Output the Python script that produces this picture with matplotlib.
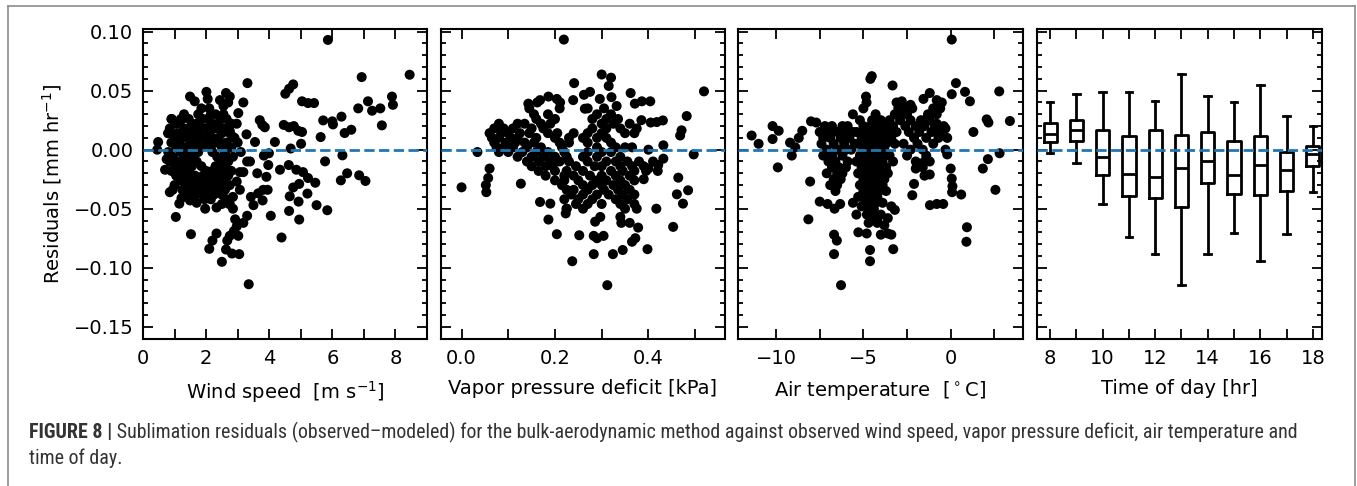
import matplotlib
matplotlib.use("Agg")
import matplotlib.pyplot as plt
from matplotlib.ticker import MultipleLocator
from matplotlib.lines import Line2D
from matplotlib import font_manager
import numpy as np

# ---------------- data ----------------
# Panel 1: wind speed [m/s] vs residual [mm/hr]
wind_outer = [(5.86, 0.093), (3.31, 0.0564), (6.93, 0.0615), (8.45, 0.0635), (4.76, 0.0553), (4.63, 0.0516),
              (4.51, 0.0474), (5.04, 0.041), (5.23, 0.0395), (5.42, 0.0395), (7.13, 0.041), (6.82, 0.035),
              (7.26, 0.033), (7.52, 0.035), (7.89, 0.045), (7.92, 0.038), (7.57, 0.0206), (5.71, 0.0248),
              (6.02, 0.0214), (6.0, 0.024), (6.29, 0.028), (6.39, 0.0141), (6.6, 0.0169), (5.63, 0.0107),
              (6.32, -0.0048), (5.77, -0.0099), (6.27, -0.026), (6.47, -0.020), (6.85, -0.0217), (7.05, -0.0265),
              (5.84, -0.0513), (4.39, -0.0744), (4.95, -0.0592), (4.63, -0.0519), (4.93, -0.044), (4.65, -0.0395),
              (5.21, -0.0372), (5.5, -0.047), (5.46, -0.028), (5.23, -0.024), (5.07, -0.019), (4.86, -0.017),
              (4.62, -0.013), (4.34, -0.017), (4.95, -0.029), (4.76, -0.032), (4.46, 0.021), (4.63, 0.019),
              (4.78, 0.020), (4.92, 0.016), (5.04, 0.015), (4.68, 0.001), (5.01, 0.005), (4.18, 0.0065),
              (3.55, 0.0065), (3.28, 0.013), (3.7, 0.025), (3.86, 0.019), (3.78, 0.021), (3.99, -0.003),
              (3.83, -0.005), (3.97, -0.013), (3.91, -0.023), (3.95, -0.034), (4.05, -0.056), (3.79, -0.043),
              (3.81, -0.034), (3.5, -0.047), (3.42, -0.04), (3.65, -0.037), (3.62, -0.02), (3.39, -0.01),
              (3.07, -0.019), (3.18, -0.019), (2.97, -0.027), (3.07, -0.034), (2.85, -0.04), (2.73, -0.046),
              (2.85, -0.05), (3.3, -0.056), (3.18, -0.062), (2.97, -0.065), (2.88, -0.069), (2.75, -0.073),
              (2.67, -0.077), (3.02, -0.073), (2.92, -0.059), (2.33, -0.071), (2.2, -0.077), (2.1, -0.084),
              (2.63, -0.0846), (2.82, -0.088), (3.05, -0.0885), (2.5, -0.095), (3.35, -0.114), (1.52, -0.0716),
              (1.04, -0.057), (1.15, -0.0457), (1.22, -0.041), (1.49, -0.043), (1.7, -0.045), (1.97, -0.05),
              (2.33, -0.049), (0.85, -0.036), (0.94, -0.034), (0.7, -0.017), (0.48, 0.0065), (0.45, 0.0),
              (0.75, -0.008), (0.8, 0.014), (0.91, 0.026), (1.2, 0.025), (1.49, 0.045), (1.64, 0.041),
              (2.01, 0.049), (2.05, 0.043), (2.44, 0.042), (2.55, 0.037), (2.63, 0.048), (2.75, 0.045),
              (2.7, 0.040), (3.18, 0.040), (3.02, 0.031), (2.97, 0.022), (2.75, 0.016), (2.84, 0.011)]
wind_cluster = {
    0.035: [1.85, 2.1],
    0.030: [1.3, 1.75, 2.15, 2.3, 2.55],
    0.026: [0.9, 1.2, 1.45, 1.9, 2.05, 2.45, 2.65],
    0.022: [1.05, 1.55, 1.7, 2.2, 2.4, 2.8],
    0.018: [0.85, 1.3, 1.6, 1.85, 2.0, 2.3, 2.6],
    0.014: [0.8, 1.1, 1.4, 1.75, 2.1, 2.5, 2.75],
    0.010: [1.0, 1.25, 1.55, 1.9, 2.2, 2.4, 2.9],
    0.006: [0.9, 1.15, 1.5, 1.7, 2.05, 2.35, 2.65, 3.0],
    0.002: [1.05, 1.3, 1.6, 1.85, 2.15, 2.5, 2.8],
    -0.002: [0.8, 1.2, 1.45, 1.75, 2.2, 2.6, 3.1],
    -0.006: [0.95, 1.3, 1.6, 2.35, 2.55, 2.85],
    -0.010: [0.85, 1.1, 1.4, 1.7, 2.45, 2.7, 3.3],
    -0.014: [1.0, 1.25, 1.55, 1.85, 2.3, 2.6],
    -0.018: [0.9, 1.15, 1.45, 2.0, 2.2, 2.5, 2.8],
    -0.022: [1.05, 1.35, 1.65, 1.9, 2.1, 2.4, 2.7],
    -0.026: [1.2, 1.5, 1.8, 2.05, 2.3, 2.55],
    -0.030: [1.0, 1.35, 1.6, 1.95, 2.2, 2.45, 2.75],
    -0.034: [1.25, 1.5, 1.8, 2.1, 2.35, 2.6],
    -0.038: [1.4, 1.7, 2.0, 2.25, 2.5],
    -0.042: [1.95, 2.15, 2.65],
    -0.046: [2.5, 2.75],
}

# Panel 2: vapor pressure deficit [kPa] vs residual
vpd_outer = [(0.219, 0.0933), (0.241, 0.0564), (0.30, 0.0637), (0.32, 0.061), (0.315, 0.054), (0.519, 0.0494),
             (0.362, 0.048), (0.262, 0.0465), (0.275, 0.049), (0.239, 0.042), (0.296, 0.043), (0.321, 0.0445),
             (0.332, 0.037), (0.386, 0.041), (0.404, 0.041), (0.371, 0.039), (0.186, 0.045), (0.204, 0.043),
             (0.211, 0.040), (0.143, 0.039), (0.162, 0.040), (0.168, 0.042), (0.264, 0.0347), (0.482, 0.0285),
             (0.418, 0.0234), (0.431, 0.0248), (0.471, 0.0164), (0.468, 0.012), (0.497, -0.004), (0.40, 0.0),
             (0.432, 0.0037), (0.432, -0.0076), (0.421, -0.013), (0.464, -0.0237), (0.461, -0.0378),
             (0.485, -0.0344), (0.474, -0.0457), (0.417, -0.050), (0.453, -0.0654), (0.398, -0.0843),
             (0.345, -0.085), (0.324, -0.0885), (0.283, -0.0885), (0.237, -0.0945), (0.312, -0.1148),
             (0.283, -0.073), (0.29, -0.075), (0.304, -0.073), (0.204, -0.0716), (0.252, -0.0725),
             (0.186, -0.0592), (0.168, -0.0443), (0.190, -0.0457), (0.223, -0.054), (0.225, -0.050),
             (0.286, -0.061), (0.297, -0.057), (0.34, -0.057), (0.342, -0.062), (0.36, -0.062), (0.378, -0.066),
             (0.372, -0.075), (0.365, -0.078), (0.0, -0.0319), (0.053, -0.036), (0.052, -0.03), (0.057, -0.024),
             (0.06, -0.016), (0.034, -0.002), (0.127, -0.0288), (0.40, -0.016), (0.42, -0.018), (0.39, -0.025),
             (0.385, 0.025), (0.405, 0.023)]
vpd_cluster = {
    0.035: [0.145, 0.21, 0.27, 0.305],
    0.030: [0.155, 0.185, 0.29, 0.32],
    0.026: [0.16, 0.2, 0.28, 0.31, 0.335],
    0.022: [0.08, 0.12, 0.135, 0.17, 0.19, 0.3, 0.325, 0.36],
    0.018: [0.07, 0.09, 0.11, 0.15, 0.175, 0.28, 0.31, 0.34, 0.375],
    0.014: [0.06, 0.085, 0.10, 0.125, 0.145, 0.185, 0.205, 0.24, 0.27, 0.3, 0.35, 0.37],
    0.010: [0.065, 0.08, 0.105, 0.12, 0.16, 0.2, 0.23, 0.26, 0.29, 0.31],
    0.006: [0.07, 0.095, 0.115, 0.135, 0.155, 0.21, 0.23, 0.27, 0.32],
    0.002: [0.075, 0.09, 0.11, 0.14, 0.17, 0.215, 0.29, 0.33, 0.35, 0.365],
    -0.002: [0.08, 0.1, 0.13, 0.16, 0.185, 0.22, 0.27, 0.3, 0.32],
    -0.006: [0.12, 0.15, 0.175, 0.2, 0.225, 0.26, 0.29, 0.34],
    -0.010: [0.14, 0.165, 0.19, 0.21, 0.23, 0.27, 0.31, 0.33, 0.355, 0.38, 0.41],
    -0.014: [0.15, 0.18, 0.195, 0.245, 0.285, 0.3, 0.34, 0.365, 0.39],
    -0.018: [0.165, 0.2, 0.225, 0.26, 0.32, 0.345, 0.37, 0.395],
    -0.022: [0.18, 0.22, 0.24, 0.275, 0.3, 0.33, 0.36],
    -0.026: [0.2, 0.22, 0.25, 0.29, 0.31, 0.34, 0.37],
    -0.030: [0.215, 0.26, 0.28, 0.3, 0.325, 0.35],
    -0.034: [0.225, 0.24, 0.27, 0.305, 0.335, 0.36],
    -0.038: [0.235, 0.26, 0.29, 0.315, 0.345, 0.37],
    -0.042: [0.22, 0.25, 0.28, 0.33, 0.355],
    -0.046: [0.245, 0.27, 0.3, 0.34, 0.37],
    -0.050: [0.225, 0.26, 0.35, 0.375],
}

# Panel 3: air temperature [deg C] vs residual
temp_outer = [(0.06, 0.0933), (-4.52, 0.0623), (-4.6, 0.060), (-3.33, 0.0544), (0.30, 0.0564), (0.06, 0.047),
              (0.82, 0.049), (1.1, 0.041), (2.78, 0.0494), (3.39, 0.0243), (2.06, 0.0257), (2.16, 0.023),
              (1.3, 0.015), (-1.56, 0.043), (-1.2, 0.048), (-0.8, 0.042), (-0.51, 0.040), (-4.85, 0.045),
              (-4.82, 0.040), (-5.0, 0.035), (-3.1, 0.040), (-2.8, 0.041), (-2.3, 0.038), (-11.4, 0.012),
              (-11.0, 0.005), (-10.2, 0.020), (-9.85, 0.016), (-10.2, 0.009), (-9.2, 0.006), (-9.1, -0.005),
              (-9.9, -0.015), (-8.7, 0.010), (-8.5, 0.016), (-8.0, 0.024), (-7.7, 0.023), (-8.9, 0.002),
              (-8.05, -0.027), (-8.15, -0.059), (-7.5, -0.044), (-7.05, -0.046), (-6.65, -0.05), (-6.33, -0.046),
              (-6.68, -0.072), (-6.52, -0.077), (-6.68, -0.0885), (-6.28, -0.1148), (-5.29, -0.07), (-4.81, -0.071),
              (-4.62, -0.085), (-4.62, -0.0945), (-3.29, -0.0843), (-4.0, -0.072), (-3.6, -0.071), (-3.4, -0.072),
              (-4.2, -0.062), (-3.8, -0.064), (-4.7, -0.062), (-4.5, -0.056), (-5.4, -0.055), (-5.6, -0.045),
              (-5.1, -0.048), (-3.4, -0.048), (-3.2, -0.051), (-3.6, -0.058), (-2.2, -0.0386), (-1.19, -0.047),
              (-0.8, -0.046), (-0.43, -0.046), (0.06, -0.0245), (0.1, -0.031), (0.08, -0.036), (0.6, -0.038),
              (0.0, -0.016), (0.93, -0.0657), (0.9, -0.078), (1.84, -0.016), (2.13, -0.008), (2.8, -0.003),
              (2.56, -0.034), (-1.5, -0.010), (-1.2, -0.021), (-1.5, -0.022), (-2.1, -0.029), (-2.0, -0.016),
              (-0.2, -0.004), (-0.7, 0.012), (-0.3, 0.018), (-0.8, 0.022), (-1.3, 0.028)]
temp_cluster = {
    0.035: [-3.0, -2.7, -2.2, -1.0, -0.6],
    0.030: [-5.6, -4.3, -3.2, -2.8, -2.5, -1.3, -0.8],
    0.025: [-5.2, -4.5, -4.0, -3.5, -2.9, -2.3, -1.7, -1.2],
    0.020: [-7.2, -6.8, -6.2, -5.9, -5.0, -4.6, -4.2, -3.8, -3.3, -2.6, -2.0, -1.5, -0.9, -0.4],
    0.015: [-7.5, -7.0, -6.5, -6.0, -5.6, -5.4, -4.9, -4.4, -4.0, -3.6, -3.1, -2.4, -1.8, -1.1, -0.6],
    0.010: [-7.3, -6.9, -6.3, -5.8, -5.1, -4.7, -4.3, -3.9, -3.4, -2.1, -1.4, -0.7, -0.2],
    0.005: [-7.4, -6.7, -6.1, -5.5, -5.3, -4.8, -4.5, -4.1, -3.7, -3.2, -2.7, -1.9, -1.0],
    0.000: [-7.1, -6.5, -6.0, -5.7, -5.0, -4.6, -4.2, -3.8, -2.3, -1.6, -0.3],
    -0.005: [-7.3, -6.8, -6.2, -5.2, -4.8, -4.4, -4.0, -3.5, -2.5, -1.4],
    -0.010: [-7.0, -6.6, -5.9, -5.4, -5.0, -4.7, -4.3, -3.9, -3.3, -2.0, -1.2],
    -0.015: [-6.8, -6.4, -6.0, -5.1, -4.8, -4.5, -4.2, -3.7, -1.6],
    -0.020: [-7.1, -6.5, -6.2, -5.3, -4.9, -4.6, -4.3, -4.0, -3.6],
    -0.025: [-6.7, -6.3, -5.0, -4.7, -4.4, -4.1, -3.8],
    -0.030: [-6.9, -6.5, -5.2, -4.9, -4.6, -4.3, -3.9],
    -0.035: [-6.6, -5.0, -4.7, -4.4, -4.1, -3.7],
    -0.040: [-5.3, -4.8, -4.5, -4.2],
    -0.045: [-4.9, -4.6, -4.3, -3.9],
    -0.050: [-4.7, -4.4],
    -0.055: [-4.8, -4.0],
    -0.060: [-4.6, -4.2],
}

# Panel 4: box statistics by hour of day
hours = [8, 9, 10, 11, 12, 13, 14, 15, 16, 17, 18]
whis_hi = [0.0403, 0.047, 0.0489, 0.0486, 0.0415, 0.0644, 0.0452, 0.0407, 0.0548, 0.0288, 0.0198]
q3 = [0.0226, 0.0254, 0.0167, 0.0119, 0.0167, 0.0122, 0.0150, 0.0071, 0.0113, -0.0020, 0.0029]
median = [0.0130, 0.0170, -0.0065, -0.0203, -0.0231, -0.0152, -0.0093, -0.0214, -0.0130, -0.0169, -0.0039]
q1 = [0.0065, 0.0074, -0.0212, -0.0395, -0.0409, -0.0488, -0.0280, -0.0378, -0.0386, -0.0347, -0.0141]
whis_lo = [-0.0025, -0.011, -0.0463, -0.0742, -0.0883, -0.1146, -0.0883, -0.0708, -0.0943, -0.0714, -0.0358]

caption_bold = "FIGURE 8 |"
caption_line1 = (" Sublimation residuals (observed\u2013modeled) for the bulk-aerodynamic method against observed "
                 "wind speed, vapor pressure deficit, air temperature and")
caption_line2 = "time of day."


def flatten(outer, cluster):
    xs = [p[0] for p in outer]
    ys = [p[1] for p in outer]
    for yv, xlist in cluster.items():
        for xv in xlist:
            xs.append(xv)
            ys.append(yv)
    return np.array(xs), np.array(ys)


def pick_caption_font():
    names = {f.name for f in font_manager.fontManager.ttflist}
    for pref in ["Liberation Sans Narrow", "Arial Narrow", "Roboto Condensed", "Open Sans Condensed",
                 "Noto Sans Condensed", "DejaVu Sans Condensed"]:
        if pref in names:
            return dict(family=pref)
    for f in font_manager.fontManager.ttflist:
        if ("Narrow" in f.name or "Condensed" in f.name) and "Mono" not in f.name and "Serif" not in f.name:
            return dict(family=f.name)
    for fam in ["Roboto", "Noto Sans", "Open Sans", "DejaVu Sans"]:
        for f in font_manager.fontManager.ttflist:
            if f.name == fam and str(f.stretch) in ("condensed", "semi-condensed", "extra-condensed"):
                return dict(family=fam, fontstretch="condensed")
    return dict(family="Liberation Sans")


# ---------------- figure ----------------
W, H = 1357, 486
fig = plt.figure(figsize=(W / 100, H / 100), dpi=100)

bottom = 1 - 339 / H
height = (339 - 29.3) / H
lefts = [143, 441, 738, 1037]
widths = [284, 284, 285, 285]

axes = [fig.add_axes([l / W, bottom, w / W, height]) for l, w in zip(lefts, widths)]

YLIM = (-0.1604, 0.102)
DASH_COLOR = "#1f77b4"

panels = [
    (flatten(wind_outer, wind_cluster), (0, 9.0), 2, r"Wind speed  [m s$^{-1}$]"),
    (flatten(vpd_outer, vpd_cluster), (-0.044, 0.564), 0.2, "Vapor pressure deficit [kPa]"),
    (flatten(temp_outer, temp_cluster), (-12.18, 4.14), 5, r"Air temperature  [$^\circ$C]"),
]

for ax, ((xs, ys), xlim, step, label) in zip(axes[:3], panels):
    ax.scatter(xs, ys, s=52, color="black", edgecolors="none", zorder=3)
    ax.axhline(0, color=DASH_COLOR, ls="--", lw=2, zorder=4)
    ax.set_xlim(*xlim)
    ax.xaxis.set_major_locator(MultipleLocator(step))
    ax.xaxis.set_minor_locator(MultipleLocator(step / 2))
    ax.set_xlabel(label, fontsize=14, labelpad=8)

# Box plot panel
ax4 = axes[3]
stats = []
for i, h in enumerate(hours):
    stats.append(dict(med=median[i], q1=q1[i], q3=q3[i], whislo=whis_lo[i], whishi=whis_hi[i], fliers=[]))
lineprops = dict(color="black", linewidth=2)
ax4.bxp(stats, positions=hours, widths=0.5, showfliers=False,
        boxprops=lineprops, whiskerprops=lineprops, capprops=lineprops, medianprops=lineprops)
ax4.axhline(0, color=DASH_COLOR, ls="--", lw=2, zorder=4)
ax4.set_xlim(7.5, 18.35)
ax4.set_xticks(hours)
ax4.set_xticklabels([str(h) if h % 2 == 0 else "" for h in hours])
ax4.set_xlabel("Time of day [hr]", fontsize=14, labelpad=8)

for i, ax in enumerate(axes):
    ax.set_ylim(*YLIM)
    ax.yaxis.set_major_locator(MultipleLocator(0.05))
    ax.yaxis.set_minor_locator(MultipleLocator(0.01))
    ax.tick_params(which="both", direction="in", top=True, right=True, labelsize=14, width=1.3, pad=7)
    ax.tick_params(axis="y", which="major", length=7)
    ax.tick_params(axis="y", which="minor", length=3.5)
    ax.tick_params(axis="x", which="both", length=7)
    for sp in ax.spines.values():
        sp.set_linewidth(1.5)
    if i > 0:
        ax.tick_params(axis="y", labelleft=False)

axes[0].set_ylabel(r"Residuals [mm hr$^{-1}$]", fontsize=14, labelpad=7)

# ---------------- page frame ----------------
frame_color = "#8c8c8c"
fig.add_artist(Line2D([8 / W, 8 / W], [0, 1 - 6 / H], transform=fig.transFigure, color=frame_color, lw=1.2))
fig.add_artist(Line2D([8 / W, 1355 / W], [1 - 6 / H, 1 - 6 / H], transform=fig.transFigure, color=frame_color, lw=1.2))
fig.add_artist(Line2D([1355 / W, 1355 / W], [0, 1 - 6 / H], transform=fig.transFigure, color=frame_color, lw=1.2))

# ---------------- caption ----------------
cap_font = pick_caption_font()
cap_color = "#333333"
x0 = 29 / W
y1 = 1 - 432 / H
y2 = 1 - 458 / H
fs = 12
tb = fig.text(x0, y1, caption_bold, fontsize=fs, fontweight="bold", color=cap_color, va="center", **cap_font)
fig.canvas.draw()
r = fig.canvas.get_renderer()
bb = tb.get_window_extent(r)
tr = fig.text(bb.x1 / W, y1, caption_line1, fontsize=fs, color=cap_color, va="center", **cap_font)
fig.canvas.draw()
total = tr.get_window_extent(r).x1 - bb.x0
fs2 = fs * (1296 - 29) / total
tb.set_fontsize(fs2)
tr.set_fontsize(fs2)
fig.canvas.draw()
bb = tb.get_window_extent(r)
tr.set_x(bb.x1 / W)
fig.text(x0, y2, caption_line2, fontsize=fs2, color=cap_color, va="center", **cap_font)

fig.savefig("out.png", dpi=100)
